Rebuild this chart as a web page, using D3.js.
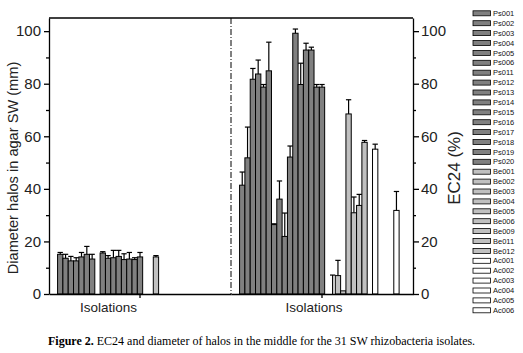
<!DOCTYPE html>
<html>
<head>
<meta charset="utf-8">
<script src="https://cdn.jsdelivr.net/npm/d3@7"></script>
<style>
    body { margin: 0; background: #fff; }
    svg { display: block; }
    .axis path, .axis line { stroke: #000; stroke-width: 1.3px; }
    .axis text { font-family: 'Liberation Sans', Arial, sans-serif; fill: #222; }
</style>
</head>
<body>
<div id="chart"></div>
<script>
// categories and series
const category = ['Isolations'];
const series = [
    'Ps001', 'Ps002', 'Ps003', 'Ps004', 'Ps005', 'Ps006', 'Ps011', 'Ps012',
    'Ps013', 'Ps014', 'Ps015', 'Ps016', 'Ps017', 'Ps018', 'Ps019', 'Ps020',
    'Be001', 'Be002', 'Be003', 'Be004', 'Be005', 'Be006', 'Be009', 'Be011', 'Be012',
    'Ac001', 'Ac002', 'Ac003', 'Ac004', 'Ac005', 'Ac006'
];

// left panel: diameter of halos (mm), null = not drawn
const haloMean = [
    15.1, 13.6, 12.6, 12.6, 14.1, 15.1, 13.3, null,
    15.6, 13.6, 13.8, 14.3, 13.1, 13.3, 13.1, 14.1,
    null, null, 14.1, null, null, null, null, null, null,
    null, null, null, null, null, null
];
const haloErr = [
    0.7, 1.5, 1.7, 1.2, 1.7, 3.0, 1.8, 0,
    0.5, 1.0, 2.8, 2.3, 2.2, 2.5, 0.7, 1.7,
    0, 0, 0.5, 0, 0, 0, 0, 0, 0,
    0, 0, 0, 0, 0, 0
];

// right panel: EC24 (%)
const ec24Mean = [
    41.4, 51.8, 81.7, 83.7, 78.7, 84.9, 26.4, 36.1,
    21.9, 52.1, 99.2, 79.7, 92.8, 92.8, 78.7, 78.7,
    null, 0, 7.0, 1.2, 68.5, 30.9, 33.7, 57.7, null,
    55.1, null, null, null, 31.8, null
];
const ec24Err = [
    5.0, 11.7, 4.1, 5.3, 1.0, 10.9, 0.3, 6.9,
    8.9, 4.2, 1.6, 8.1, 2.6, 1.1, 1.0, 1.0,
    0, 7.2, 5.8, 0, 5.4, 6.0, 4.2, 0.7, 0,
    1.9, 0, 0, 0, 7.2, 0
];

const yTicks = [0, 20, 40, 60, 80, 100];
const yMinorTicks = [10, 30, 50, 70, 90];

const width = 523;
const height = 353;
const plotTop = 18;
const plotBottom = 294;
const leftPanel = [49, 231];
const rightPanel = [231, 413];

const fillFor = name => name.startsWith('Ps') ? '#808080'
    : name.startsWith('Be') ? '#c0c0c0' : '#ffffff';

let svg, yScale, innerScale, leftX, rightX;

function buildScales() {
    yScale = d3.scaleLinear()
        .domain([0, 105])
        .range([plotBottom, plotTop]);

    leftX = d3.scaleBand()
        .domain(category)
        .range(leftPanel)
        .paddingInner(0)
        .paddingOuter(0.052);

    rightX = d3.scaleBand()
        .domain(category)
        .range(rightPanel)
        .paddingInner(0)
        .paddingOuter(0.052);

    innerScale = d3.scaleBand()
        .domain(series)
        .range([0, leftX.bandwidth()]);
}

function buildSVG() {
    svg = d3.select('#chart')
        .append('svg')
        .attr('width', width)
        .attr('height', height);
}

function drawBars(xScale, mean, err, cls) {
    const rows = series.map((name, i) => ({name, value: mean[i], err: err[i]}))
        .filter(d => d.value !== null);
    const g = svg.append('g').attr('class', cls);
    const bw = innerScale.bandwidth();
    const x0 = xScale(category[0]);

    g.selectAll('.bar')
        .data(rows)
      .enter()
      .append('rect')
        .classed('bar', true)
        .attr('x', d => x0 + innerScale(d.name))
        .attr('y', d => yScale(d.value))
        .attr('width', bw)
        .attr('height', d => yScale(0) - yScale(d.value))
        .attr('fill', d => fillFor(d.name))
        .attr('stroke', '#000')
        .attr('stroke-width', 1);

    const errRows = rows.filter(d => d.err > 0);
    const eg = g.selectAll('.err')
        .data(errRows)
      .enter()
      .append('g')
        .classed('err', true);

    eg.append('line')
        .attr('x1', d => x0 + innerScale(d.name) + bw / 2)
        .attr('x2', d => x0 + innerScale(d.name) + bw / 2)
        .attr('y1', d => yScale(d.value))
        .attr('y2', d => yScale(d.value + d.err))
        .attr('stroke', '#000')
        .attr('stroke-width', 1.2);

    eg.append('line')
        .attr('x1', d => x0 + innerScale(d.name))
        .attr('x2', d => x0 + innerScale(d.name) + bw)
        .attr('y1', d => yScale(d.value + d.err))
        .attr('y2', d => yScale(d.value + d.err))
        .attr('stroke', '#000')
        .attr('stroke-width', 1.2);
}

function drawAxes() {
    // bottom axes, one per panel; the category label sits left of its tick
    [[leftX, -31.5], [rightX, -8]].forEach(([xs, shift]) => {
        const ax = svg.append('g')
            .attr('class', 'axis')
            .attr('transform', `translate(0,${plotBottom})`)
            .call(d3.axisBottom(xs).tickSize(4).tickSizeOuter(0).tickPadding(4));
        ax.selectAll('text')
            .style('font-size', '13.5px')
            .attr('dx', shift);
    });

    // left y axis
    const la = svg.append('g')
        .attr('class', 'axis')
        .attr('transform', `translate(${leftPanel[0]},0)`)
        .call(d3.axisLeft(yScale).tickValues(yTicks).tickSize(5).tickSizeOuter(0).tickPadding(3));
    la.selectAll('text').style('font-size', '15px');
    svg.append('g')
        .attr('class', 'axis')
        .attr('transform', `translate(${leftPanel[0]},0)`)
        .call(d3.axisLeft(yScale).tickValues(yMinorTicks).tickSize(3).tickFormat(''))
        .select('.domain').remove();

    // right y axis
    const ra = svg.append('g')
        .attr('class', 'axis')
        .attr('transform', `translate(${rightPanel[1]},0)`)
        .call(d3.axisRight(yScale).tickValues(yTicks).tickSize(6).tickSizeOuter(0).tickPadding(2));
    ra.selectAll('text').style('font-size', '15px');
    svg.append('g')
        .attr('class', 'axis')
        .attr('transform', `translate(${rightPanel[1]},0)`)
        .call(d3.axisRight(yScale).tickValues(yMinorTicks).tickSize(3).tickFormat(''))
        .select('.domain').remove();

    // top frame
    svg.append('line')
        .attr('x1', leftPanel[0]).attr('x2', rightPanel[1])
        .attr('y1', plotTop).attr('y2', plotTop)
        .attr('stroke', '#000').attr('stroke-width', 1.3);

    // dash-dot divider
    svg.append('line')
        .attr('x1', leftPanel[1]).attr('x2', leftPanel[1])
        .attr('y1', plotTop).attr('y2', plotBottom)
        .attr('stroke', '#000').attr('stroke-width', 1)
        .attr('stroke-dasharray', '6,2,1,2');

    // axis titles
    svg.append('text')
        .attr('transform', `translate(18,168) rotate(-90)`)
        .attr('text-anchor', 'middle')
        .style('font-family', "'Liberation Sans', Arial, sans-serif")
        .style('font-size', '14.6px')
        .attr('fill', '#222')
        .text('Diameter halos in agar SW (mm)');

    svg.append('text')
        .attr('transform', `translate(460,168) rotate(-90)`)
        .attr('text-anchor', 'middle')
        .style('font-family', "'Liberation Sans', Arial, sans-serif")
        .style('font-size', '17px')
        .attr('fill', '#222')
        .text('EC24 (%)');
}

function drawLegend() {
    const legend = svg.append('g')
        .attr('class', 'legend')
        .attr('transform', 'translate(473,13.3)');

    const items = legend.selectAll('.item')
        .data(series)
      .enter()
      .append('g')
        .classed('item', true)
        .attr('transform', (d, i) => `translate(0,${i * 9.9})`);

    items.append('rect')
        .attr('x', 0)
        .attr('y', -2.5)
        .attr('width', 17.5)
        .attr('height', 5)
        .attr('fill', d => fillFor(d))
        .attr('stroke', '#000')
        .attr('stroke-width', 0.8);

    items.append('text')
        .attr('x', 20)
        .attr('y', 0)
        .attr('dy', '0.35em')
        .style('font-family', "'Liberation Sans', Arial, sans-serif")
        .style('font-size', '7.5px')
        .attr('fill', '#111')
        .text(d => d);
}

function drawCaption() {
    const t = svg.append('text')
        .attr('x', 48)
        .attr('y', 345)
        .style('font-family', "'Liberation Serif', 'Times New Roman', serif")
        .style('font-size', '12px')
        .attr('fill', '#000');
    t.append('tspan').style('font-weight', 'bold').text('Figure 2.');
    t.append('tspan').text(' EC24 and diameter of halos in the middle for the 31 SW rhizobacteria isolates.');
}

buildScales();
buildSVG();
drawBars(leftX, haloMean, haloErr, 'halo-bars');
drawBars(rightX, ec24Mean, ec24Err, 'ec24-bars');
drawAxes();
drawLegend();
drawCaption();
</script>
</body>
</html>
